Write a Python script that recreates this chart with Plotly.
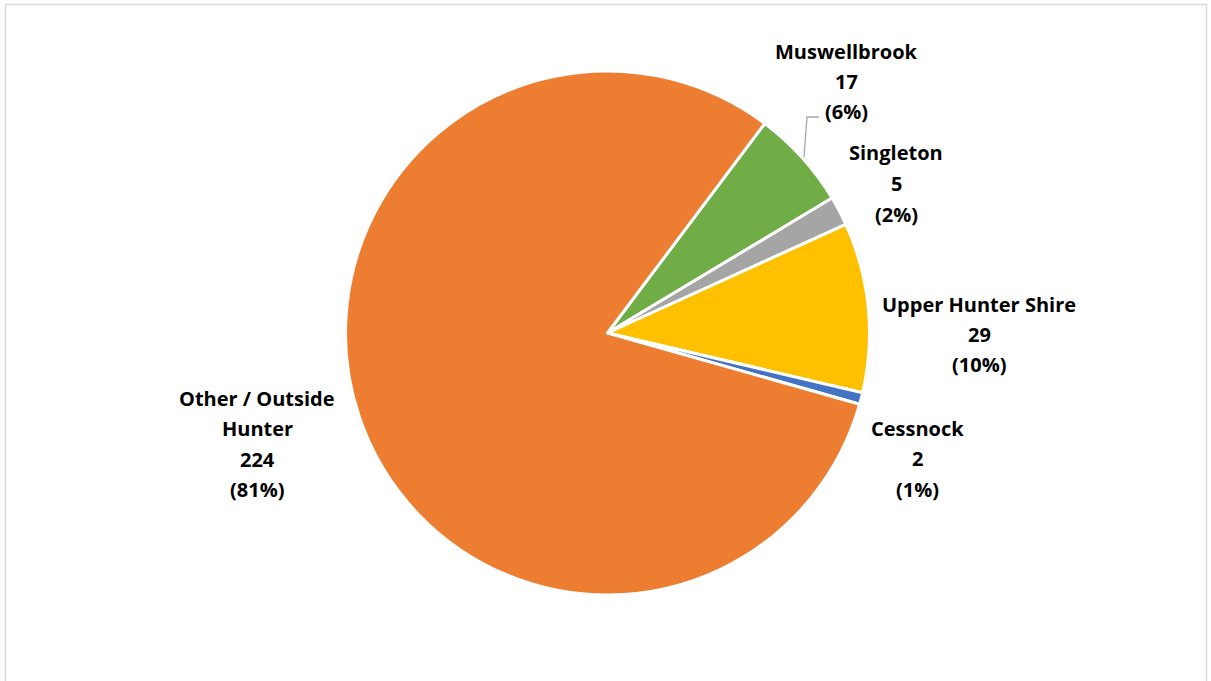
import plotly.graph_objects as go

# Visitor origin by local government area
areas = ["Muswellbrook", "Singleton", "Upper Hunter Shire", "Cessnock", "Other / Outside Hunter"]
counts = [17, 5, 29, 2, 224]
colors = ["#70AD47", "#A5A5A5", "#FFC000", "#4472C4", "#ED7D31"]

W, H = 1211, 681
total = sum(counts)

# Pie geometry in pixels (centre and radius)
cx, cy, r = 607.5, 333, 262

fig = go.Figure(go.Pie(
    labels=areas,
    values=counts,
    sort=False,
    direction="clockwise",
    rotation=36.9,
    marker=dict(colors=colors, line=dict(color="white", width=3)),
    textinfo="none",
    hoverinfo="label+value+percent",
    domain=dict(x=[(cx - r) / W, (cx + r) / W], y=[1 - (cy + r) / H, 1 - (cy - r) / H]),
    showlegend=False,
))

# Label anchor (centre x, first-line y) for each area, in pixels
label_pos = {
    "Muswellbrook": (846, 51),
    "Singleton": (896, 153),
    "Upper Hunter Shire": (979, 304),
    "Cessnock": (917, 428),
    "Other / Outside Hunter": (257, 398),
}
line_gap = 30.5

annotations = []
for name, v in zip(areas, counts):
    pct = round(v / total * 100)
    name_lines = ["Other / Outside", "Hunter"] if name == "Other / Outside Hunter" else [name]
    lines = name_lines + [str(v), f"({pct}%)"]
    x0, y0 = label_pos[name]
    for i, t in enumerate(lines):
        annotations.append(dict(
            x=x0 / W, y=1 - (y0 + i * line_gap) / H, xref="paper", yref="paper",
            text=f"<b>{t}</b>", showarrow=False, xanchor="center", yanchor="middle",
            font=dict(family="Open Sans", size=20, color="#000000"),
        ))

shapes = [
    # chart frame
    dict(type="rect", xref="paper", yref="paper", x0=5.5 / W, x1=1206.5 / W, y0=-0.01, y1=1 - 4.5 / H,
         line=dict(color="#D9D9D9", width=1.5), fillcolor="rgba(0,0,0,0)"),
    # leader line for Muswellbrook
    dict(type="path", xref="paper", yref="paper",
         path=f"M {804 / W},{1 - 157 / H} L {807 / W},{1 - 117 / H} L {819 / W},{1 - 117 / H}",
         line=dict(color="#A6A6A6", width=1.3)),
]

fig.update_layout(
    width=W, height=H,
    margin=dict(l=0, r=0, t=0, b=0),
    paper_bgcolor="white", plot_bgcolor="white",
    annotations=annotations,
    shapes=shapes,
)

fig.write_html("out.html")
